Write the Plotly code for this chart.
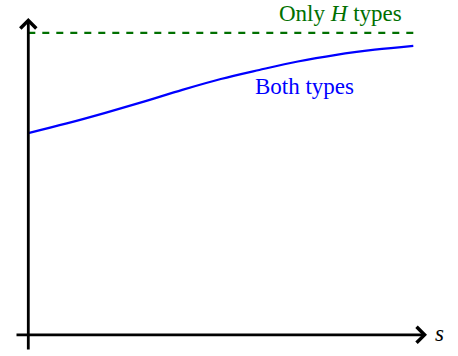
import plotly.graph_objects as go

# data
s_vals = [0.0, 0.1, 0.2, 0.3, 0.4, 0.5, 0.6, 0.7, 0.8, 0.9, 1.0]
both_types = [0.668, 0.700, 0.735, 0.772, 0.811, 0.847, 0.877, 0.905, 0.927, 0.944, 0.957]
only_h_s = [0.0, 1.0]
only_h = [1.0, 1.0]

W, H = 458, 356
OFF = 0  # body margin removed below
x0px, xscale = 28.3, 385
y0px, yscale = 334.8, 302

def px2x(p):
    return (p - x0px) / xscale

def px2y(p):
    return (y0px - p) / yscale

GREEN = "#007000"
BLUE = "#0000ff"
FONT = "Liberation Serif"
FS = 23

fig = go.Figure()
fig.add_trace(go.Scatter(x=only_h_s, y=only_h, mode="lines",
                         line=dict(color=GREEN, width=2.2, dash="7px,7px"),
                         hoverinfo="skip", showlegend=False))
fig.add_trace(go.Scatter(x=s_vals, y=both_types, mode="lines",
                         line=dict(color=BLUE, width=2.2, shape="spline"),
                         hoverinfo="skip", showlegend=False))

# axes with arrows
fig.add_annotation(x=px2x(427), y=0, ax=px2x(15), ay=0, xref="x", yref="y",
                   axref="x", ayref="y", showarrow=True, arrowhead=4,
                   arrowsize=1.1, arrowwidth=2.8, arrowcolor="black", text="")
fig.add_annotation(x=0, y=px2y(18), ax=0, ay=px2y(351), xref="x", yref="y",
                   axref="x", ayref="y", showarrow=True, arrowhead=4,
                   arrowsize=1.1, arrowwidth=2.8, arrowcolor="black", text="")

fig.add_annotation(x=px2x(439.5), y=px2y(333), text="<i>s</i>", showarrow=False,
                   font=dict(family=FONT, size=FS, color="black"))
fig.add_annotation(x=px2x(340.5), y=px2y(13), text="Only <i>H</i> types", showarrow=False,
                   font=dict(family=FONT, size=FS, color=GREEN))
fig.add_annotation(x=px2x(304.5), y=px2y(86), text="Both types", showarrow=False,
                   font=dict(family=FONT, size=FS, color=BLUE))

fig.update_xaxes(range=[px2x(OFF), px2x(OFF + W)], visible=False, fixedrange=True)
fig.update_yaxes(range=[px2y(OFF + H), px2y(OFF)], visible=False, fixedrange=True)
fig.update_layout(width=W, height=H, margin=dict(l=0, r=0, t=0, b=0),
                  plot_bgcolor="white", paper_bgcolor="white")

fig.write_html("out.html", config={"displayModeBar": False},
               post_script="document.body.style.margin='0';")
